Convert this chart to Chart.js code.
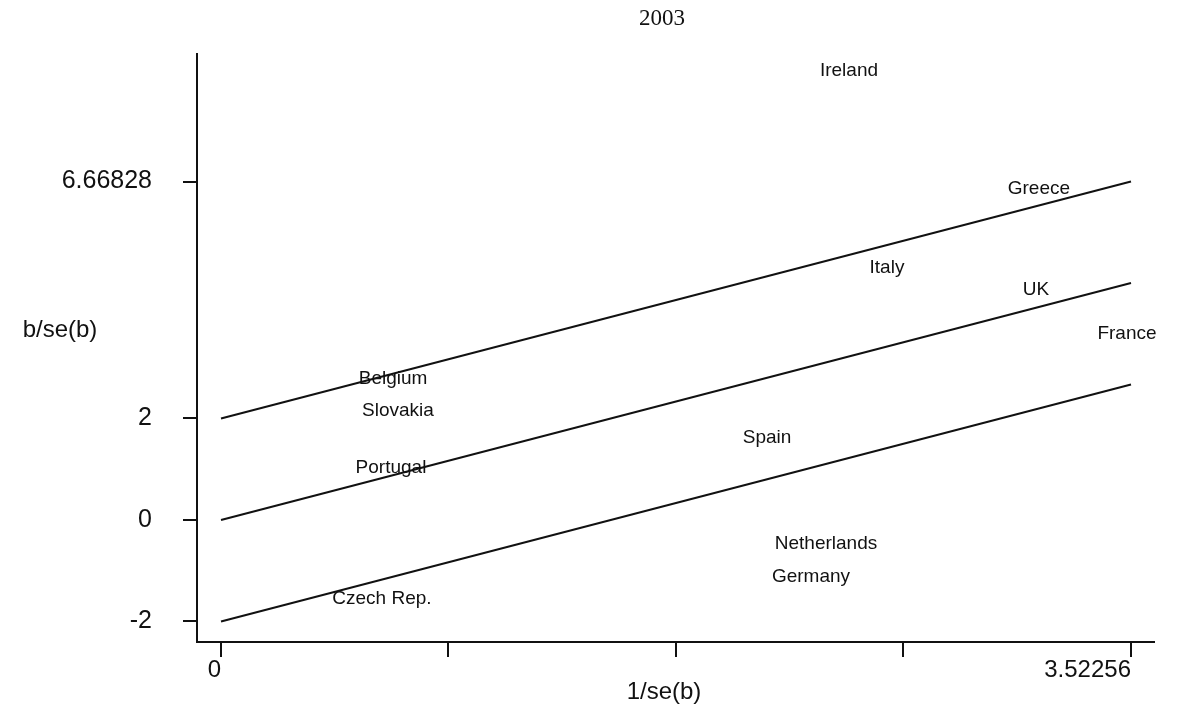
<!DOCTYPE html>
<html lang="en">
<head>
<meta charset="UTF-8">
<title>2003</title>
<script src="https://cdn.jsdelivr.net/npm/chart.js"></script>
<style>
    body { margin: 0; background: white; }
    canvas { display: block; }
</style>
</head>
<body>
<canvas id="grafico" width="1178" height="708"></canvas>
<script>
    // lines of the plot: zero line and +/-2 bands
    let lineX = [0, 3.52256];
    let upperBand = [2, 6.66828];
    let centreLine = [0, 4.66828];
    let lowerBand = [-2, 2.66828];

    // countries, 1/se(b) and b/se(b)
    let countries = ['Ireland', 'Greece', 'Italy', 'UK', 'France', 'Belgium', 'Slovakia',
                     'Portugal', 'Spain', 'Netherlands', 'Germany', 'Czech Rep.'];
    let precision = [2.431, 3.166, 2.578, 3.155, 3.507, 0.666, 0.685, 0.658, 2.114, 2.342, 2.284, 0.623];
    let tStat = [8.85, 6.52, 4.97, 4.53, 3.67, 2.78, 2.15, 1.02, 1.62, -0.47, -1.12, -1.56];

    let xTicks = [0, 0.88064, 1.76128, 2.64192, 3.52256];
    let xTickLabels = ['0', '', '', '', '3.52256'];
    let yTicks = [-2, 0, 2, 6.66828];
    let yTickLabels = ['-2', '0', '2', '6.66828'];

    const sans = "'Liberation Sans', Arial, sans-serif";
    const ink = '#111';

    function toPoints(xs, ys) {
        return xs.map((x, i) => ({ x: x, y: ys[i] }));
    }

    function lineSet(ys) {
        return {
            data: toPoints(lineX, ys),
            showLine: true,
            borderColor: ink,
            borderWidth: 2,
            pointRadius: 0,
            fill: false
        };
    }

    // country names drawn at their points + titles
    const textPlugin = {
        id: 'textos',
        afterDatasetsDraw(chart) {
            const c = chart.ctx;
            const meta = chart.getDatasetMeta(3);
            c.save();
            c.fillStyle = ink;
            c.textAlign = 'center';
            c.textBaseline = 'middle';
            c.font = '19px ' + sans;
            meta.data.forEach((el, i) => {
                c.fillText(countries[i], el.x, el.y);
            });
            c.font = '24px ' + sans;
            c.fillText('b/se(b)', 60, 330);
            c.fillText('1/se(b)', 664, 692);
            c.font = "23px 'Liberation Serif', 'Times New Roman', serif";
            c.fillText('2003', 662, 19);
            c.restore();
        }
    };

    let ctx = document.getElementById('grafico').getContext('2d');
    let chart = new Chart(ctx, {
        type: 'scatter',
        data: {
            datasets: [
                lineSet(upperBand),
                lineSet(centreLine),
                lineSet(lowerBand),
                {
                    data: toPoints(precision, tStat),
                    pointRadius: 0,
                    showLine: false
                }
            ]
        },
        options: {
            responsive: false,
            animation: false,
            layout: { padding: { left: 0, right: 24, top: 54, bottom: 0 } },
            plugins: {
                legend: { display: false },
                tooltip: { enabled: false },
                title: { display: false }
            },
            scales: {
                x: {
                    type: 'linear',
                    min: -0.0929,
                    max: 3.6117,
                    afterBuildTicks: s => { s.ticks = xTicks.map(v => ({ value: v })); },
                    afterFit: s => { s.height = 66; },
                    grid: { drawOnChartArea: false, drawTicks: true, tickLength: 15, color: ink, lineWidth: 2 },
                    border: { display: true, color: ink, width: 2 },
                    ticks: {
                        autoSkip: false,
                        maxRotation: 0,
                        align: 'end',
                        padding: 1,
                        color: ink,
                        font: { family: sans, size: 24, lineHeight: 1 },
                        callback: (v, i) => xTickLabels[i]
                    }
                },
                y: {
                    type: 'linear',
                    min: -2.404,
                    max: 9.182,
                    afterBuildTicks: s => { s.ticks = yTicks.map(v => ({ value: v })); },
                    afterFit: s => { s.width = 197; },
                    grid: { drawOnChartArea: false, drawTicks: true, tickLength: 14, color: ink, lineWidth: 2 },
                    border: { display: true, color: ink, width: 2 },
                    ticks: {
                        autoSkip: false,
                        padding: 31,
                        color: ink,
                        font: { family: sans, size: 25 },
                        callback: (v, i) => yTickLabels[i]
                    }
                }
            }
        },
        plugins: [textPlugin]
    });
</script>
</body>
</html>
